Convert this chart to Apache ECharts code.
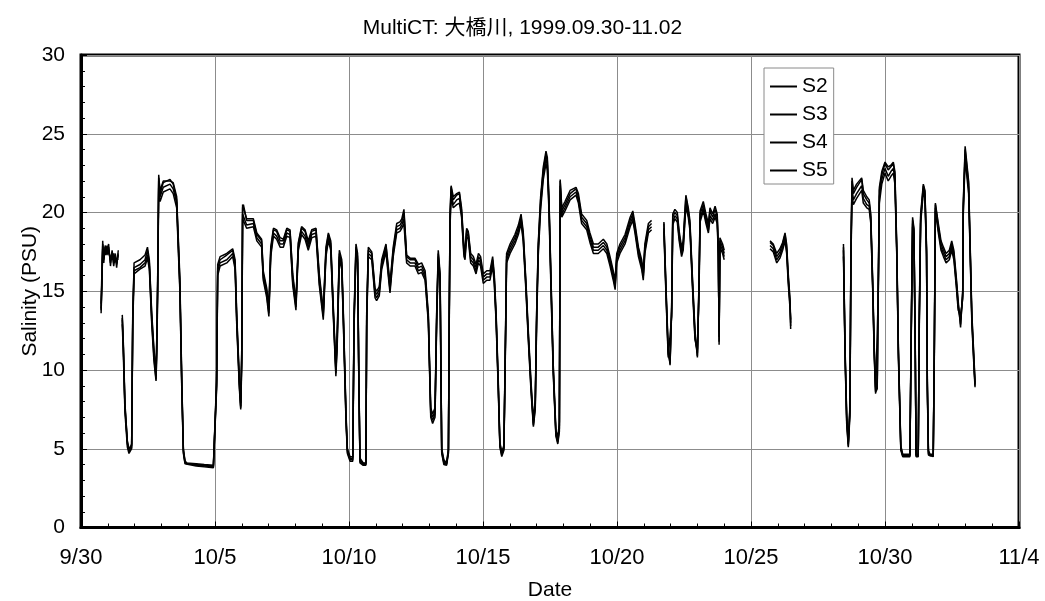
<!DOCTYPE html>
<html>
<head>
<meta charset="utf-8">
<script src="https://cdn.jsdelivr.net/npm/echarts@6/dist/echarts.min.js"></script>
<style>
  html, body { margin: 0; padding: 0; background: #fff; }
  #chart { width: 1045px; height: 601px; }
</style>
</head>
<body>
<div id="chart"></div>
<script>
// Elapsed days since 9/30 00:00 (shared time base for all four sensors)
const days = [
  0.75,0.79,0.81,0.85,0.90,0.97,1.03,1.10,1.16,1.22,1.28,1.33,1.39,1.46,
  1.54,1.58,1.64,1.73,1.79,1.89,1.93,1.98,2.01,2.20,2.39,2.48,2.55,2.64,2.72,2.80,2.83,2.86,
  2.90,2.95,3.07,3.32,3.44,3.57,3.69,3.76,3.82,3.88,3.94,4.30,4.60,4.94,5.00,
  5.06,5.10,5.19,5.44,5.66,5.75,5.81,5.91,5.96,6.00,6.03,6.06,6.18,6.43,6.56,6.74,6.80,6.93,7.01,
  7.08,7.18,7.30,7.43,7.55,7.68,7.80,7.90,8.02,8.11,8.23,8.36,8.48,8.61,8.77,8.89,9.04,
  9.14,9.23,9.32,9.41,9.51,9.56,9.64,9.73,9.79,9.89,9.94,10.04,10.14,10.19,10.26,10.32,10.37,10.41,10.53,10.63,10.66,
  10.72,10.85,10.97,11.03,11.13,11.22,11.38,11.47,11.53,11.65,11.78,11.90,11.97,12.05,12.15,12.28,12.46,12.59,12.71,12.84,12.96,13.05,13.12,
  13.21,13.27,13.33,13.40,13.42,13.46,13.54,13.64,13.71,13.74,13.77,13.81,13.89,14.02,14.12,
  14.20,14.29,14.33,14.39,14.45,14.54,14.64,14.74,14.83,14.91,15.01,15.14,15.26,15.36,15.42,15.49,15.57,15.63,15.70,15.78,15.85,15.88,
  16.01,16.19,16.32,16.42,16.50,16.60,16.69,16.79,16.88,16.95,17.00,17.06,17.15,17.25,17.35,17.40,17.46,17.54,17.62,17.72,17.79,17.85,
  17.88,17.94,18.06,18.25,18.47,18.56,18.68,18.87,18.99,19.12,19.30,19.49,19.62,
  19.74,19.86,19.93,19.99,20.11,20.30,20.49,20.59,20.67,20.80,20.92,20.98,21.04,21.08,21.17,21.29,21.5,
  21.75,21.83,21.91,21.98,22.04,22.08,22.16,22.25,22.32,22.41,22.47,22.57,22.66,22.72,22.82,22.91,23.00,23.06,23.10,23.22,
  23.32,23.41,23.47,23.57,23.66,23.74,23.78,23.81,23.84,23.94,24.00,24.5,
  25.71,25.83,25.96,26.08,26.18,26.27,26.33,26.39,26.46,26.48,27,
  28.45,28.51,28.57,28.63,28.69,28.73,28.77,28.82,28.94,29.13,29.19,29.32,29.41,29.47,29.54,29.60,29.65,29.71,29.75,29.79,
  29.88,30.00,30.12,30.22,30.31,30.37,
  30.44,30.50,30.59,30.66,30.93,30.97,31.03,31.08,31.13,31.16,31.24,31.28,31.33,31.43,31.49,31.55,31.58,31.62,31.68,31.80,31.84,
  31.88,31.93,31.99,32.09,32.18,32.28,32.40,32.49,32.57,32.67,32.73,32.82,32.90,32.92,32.99,33.05,33.12,33.18,33.24,33.33,33.36
];

// Salinity (PSU) per sensor; null marks a logging gap
const s2 = [
  13.6,16.0,18.2,16.8,17.9,17.5,18.0,16.6,17.6,16.8,17.4,16.5,17.6,null,
  13.5,11.7,7.9,5.4,4.8,5.1,13.4,16.5,16.5,16.7,17.0,17.6,16.8,13.4,11.2,9.6,12.0,15.5,
  22.4,21.2,21.9,22.1,21.8,20.8,15.5,9.2,4.9,4.2,4.05,4.0,3.95,3.9,3.87,
  9.2,16.5,17.0,17.3,17.6,16.8,13.4,9.2,7.7,11.2,20.3,20.5,19.5,19.5,18.6,18.2,16.1,15.0,13.8,
  17.6,18.9,18.8,18.2,18.2,18.9,18.8,15.9,14.2,18.0,19.0,18.8,18.0,18.8,18.9,15.9,13.6,
  17.6,18.6,18.0,14.0,10.0,12.1,17.4,16.8,13.4,7.0,4.9,4.4,4.4,13.4,17.8,17.2,9.1,4.3,4.07,4.07,13.4,
  17.6,17.4,15.0,14.8,15.1,16.8,17.9,16.3,15.3,17.6,19.1,19.2,19.4,20.0,17.2,17.0,17.0,16.5,16.6,16.1,13.4,7.4,7.0,
  7.4,13.4,17.4,15.9,12.0,4.9,4.2,4.05,4.9,13.4,19.7,21.6,20.8,21.1,21.2,
  20.1,17.6,17.4,18.9,18.7,17.2,17.0,16.5,17.2,17.0,15.9,16.1,16.1,17.0,15.9,13.4,9.1,5.3,4.7,5.1,13.4,17.2,
  17.8,18.4,19.0,19.7,18.6,15.5,12.3,9.1,6.6,7.9,13.4,17.8,20.8,22.7,23.7,23.3,20.8,15.5,10.2,6.0,5.5,6.5,
  22.0,20.1,20.5,21.2,21.5,21.0,19.7,19.3,18.5,17.8,17.8,18.1,17.8,
  17.0,16.1,15.5,17.2,17.8,18.4,19.5,19.9,19.1,17.6,16.8,16.1,17.8,18.2,19.1,19.3,null,
  19.3,15.0,11.2,10.4,14.0,19.7,20.0,19.8,18.6,17.6,18.0,21.0,20.1,19.3,15.5,12.3,10.9,15.5,19.9,20.5,
  19.7,19.1,20.1,19.7,20.2,19.7,17.6,11.8,18.2,17.8,17.4,null,
  18.1,17.9,17.2,17.5,18.0,18.6,17.8,15.9,14.2,12.8,null,
  18.0,11.2,7.0,5.3,7.5,17.6,22.0,21.2,21.6,22.1,21.2,20.8,20.6,19.7,15.5,11.2,8.7,9.0,15.5,21.4,
  22.4,23.1,22.7,22.9,23.1,22.4,
  17.6,11.2,5.1,4.6,4.6,11.2,19.5,18.9,11.2,4.6,4.6,13.4,19.7,21.7,21.3,17.6,9.1,4.8,4.6,4.6,11.2,
  20.5,19.9,19.1,18.0,17.6,17.2,17.4,18.0,17.4,15.5,14.2,12.9,14.9,20.4,24.0,23.9,21.8,17.6,13.4,10.2,9.1
];
const s3 = [
  13.9,16.4,17.9,17.2,17.6,17.7,17.6,17.0,17.3,17.1,17.1,16.8,17.3,null,
  13.2,11.4,7.6,5.3,4.9,5.3,13.0,16.3,16.3,16.5,16.8,17.3,16.6,13.1,10.9,9.4,11.6,15.1,
  22.0,21.0,21.6,21.8,21.5,20.6,15.2,9.0,4.8,4.1,4.0,3.95,3.9,3.85,3.85,
  9.0,16.3,16.8,17.0,17.4,16.6,13.1,9.0,7.6,10.8,19.9,20.0,19.2,19.3,18.4,18.0,15.9,14.8,13.6,
  17.4,18.7,18.5,18.0,18.0,18.7,18.6,15.6,14.0,17.8,18.8,18.5,17.8,18.6,18.7,15.6,13.4,
  17.4,18.4,17.8,13.8,9.8,11.8,17.2,16.6,13.1,6.8,4.8,4.3,4.3,13.1,17.6,17.0,8.9,4.2,4.0,4.0,13.1,
  17.4,17.2,14.8,14.6,14.9,16.6,17.7,16.1,15.1,17.4,18.9,19.0,19.2,19.6,17.0,16.8,16.8,16.3,16.4,15.9,13.2,7.2,6.8,
  7.2,13.1,17.2,15.7,11.7,4.8,4.1,4.0,4.8,13.1,19.4,21.3,20.5,20.8,20.9,
  19.9,17.4,17.2,18.7,18.5,17.0,16.8,16.3,17.0,16.8,15.7,15.9,15.9,16.8,15.7,13.2,8.9,5.2,4.6,5.0,13.1,17.0,
  17.6,18.2,18.8,19.5,18.4,15.3,12.1,8.9,6.5,7.7,13.1,17.5,20.5,22.4,23.4,23.0,20.5,15.2,10.0,5.9,5.4,6.3,
  21.7,19.9,20.3,21.0,21.3,20.8,19.5,19.1,18.3,17.6,17.6,17.9,17.6,
  16.8,15.9,15.3,17.0,17.6,18.2,19.3,19.7,18.9,17.4,16.6,15.9,17.6,18.0,18.9,19.1,null,
  19.0,14.8,11.0,10.6,13.7,19.4,19.8,19.6,18.4,17.4,17.8,20.7,19.9,19.1,15.3,12.1,11.1,15.2,19.6,20.3,
  19.5,18.9,19.8,19.5,19.9,19.5,17.4,12.1,18.0,17.6,17.2,null,
  17.9,17.7,17.0,17.3,17.8,18.4,17.6,15.7,14.0,13.0,null,
  17.6,11.0,6.8,5.2,7.3,17.3,21.6,20.8,21.2,21.7,20.9,20.5,20.4,19.5,15.3,11.0,8.6,8.8,15.2,21.0,
  22.1,22.8,22.3,22.6,22.8,22.1,
  17.4,11.0,5.0,4.55,4.55,11.0,19.3,18.7,11.0,4.55,4.55,13.1,19.5,21.5,21.1,17.4,8.9,4.7,4.55,4.55,11.0,
  20.3,19.7,18.9,17.8,17.4,17.0,17.2,17.8,17.2,15.3,14.0,13.2,14.7,20.1,23.7,23.6,21.5,17.4,13.2,10.0,9.0
];
const s4 = [
  14.2,16.9,17.7,17.5,17.3,17.9,17.4,17.3,17.0,17.4,16.9,17.1,17.0,null,
  12.9,11.0,7.3,5.1,4.7,5.0,12.7,16.1,16.2,16.4,16.6,17.1,16.4,12.9,10.6,9.3,11.2,14.8,
  21.6,20.7,21.3,21.5,21.2,20.3,15.0,8.8,4.7,4.05,3.95,3.9,3.85,3.8,3.8,
  8.8,16.0,16.6,16.8,17.2,16.4,12.9,8.8,7.5,10.5,19.6,19.7,19.0,19.1,18.2,17.8,15.7,14.6,13.4,
  17.2,18.5,18.3,17.8,17.8,18.5,18.4,15.4,13.8,17.6,18.6,18.3,17.6,18.4,18.5,15.4,13.2,
  17.2,18.2,17.6,13.6,9.6,11.5,17.0,16.4,12.9,6.6,4.7,4.2,4.2,12.8,17.4,16.8,8.7,4.1,3.95,3.95,12.8,
  17.2,17.0,14.6,14.4,14.7,16.4,17.5,15.9,14.9,17.2,18.7,18.8,19.0,19.3,16.8,16.6,16.6,16.1,16.2,15.7,13.0,7.0,6.6,
  7.0,12.8,17.0,15.5,11.4,4.7,4.0,3.95,4.7,12.8,19.1,21.0,20.3,20.5,20.6,
  19.7,17.2,17.0,18.5,18.3,16.8,16.6,16.1,16.8,16.6,15.5,15.7,15.7,16.6,15.5,13.0,8.7,5.1,4.5,4.9,12.8,16.8,
  17.4,18.0,18.6,19.3,18.2,15.1,11.9,8.7,6.4,7.5,12.8,17.2,20.2,22.1,23.1,22.7,20.2,14.9,9.8,5.8,5.3,6.1,
  21.4,19.7,20.1,20.8,21.1,20.6,19.3,18.9,18.1,17.4,17.4,17.7,17.4,
  16.6,15.7,15.1,16.8,17.4,18.0,19.1,19.5,18.7,17.2,16.4,15.7,17.4,17.8,18.7,18.9,null,
  18.8,14.6,10.8,10.8,13.4,19.2,19.6,19.4,18.2,17.2,17.6,20.4,19.7,18.9,15.1,11.9,11.3,14.9,19.4,20.1,
  19.3,18.7,19.6,19.3,19.7,19.3,17.2,12.4,17.8,17.4,17.0,null,
  17.7,17.5,16.8,17.1,17.6,18.2,17.4,15.5,13.8,13.2,null,
  17.2,10.8,6.6,5.1,7.1,17.0,21.2,20.5,20.9,21.4,20.6,20.3,20.2,19.3,15.1,10.8,8.5,8.6,14.9,20.6,
  21.8,22.5,22.0,22.3,22.5,21.8,
  17.2,10.8,4.9,4.5,4.5,10.8,19.1,18.5,10.8,4.5,4.5,12.8,19.3,21.3,20.9,17.2,8.7,4.6,4.5,4.5,10.8,
  20.1,19.5,18.7,17.6,17.2,16.8,17.0,17.6,17.0,15.1,13.8,13.5,14.5,19.8,23.4,23.3,21.2,17.2,13.0,9.8,8.9
];
const s5 = [
  13.8,16.2,18.0,17.0,17.8,17.3,17.8,16.8,17.5,16.6,17.3,16.7,17.4,null,
  13.3,11.5,7.7,5.5,5.0,5.2,13.2,16.8,16.8,17.0,17.3,17.8,17.0,13.6,11.4,9.8,12.3,15.7,
  22.2,21.4,22.0,22.0,21.9,21.0,15.8,9.4,5.0,4.25,4.1,4.05,4.0,3.95,3.9,
  9.4,16.7,17.2,17.4,17.7,17.0,13.6,9.4,7.9,11.5,20.5,20.3,19.6,19.6,18.7,18.3,16.3,15.2,14.0,
  17.8,19.0,18.9,18.4,18.3,19.0,18.9,16.1,14.4,18.1,19.1,18.9,18.2,18.9,19.0,16.1,13.8,
  17.8,18.7,18.2,14.2,10.2,12.4,17.6,17.0,13.6,7.2,5.0,4.5,4.5,13.6,18.0,17.4,9.3,4.4,4.1,4.1,13.6,
  17.8,17.5,15.2,15.0,15.3,17.0,18.0,16.5,15.5,17.8,19.3,19.4,19.6,20.2,17.3,17.1,17.1,16.7,16.8,16.3,13.6,7.6,7.2,
  7.6,13.6,17.6,16.1,12.2,5.0,4.3,4.1,5.0,13.6,19.9,21.7,21.0,21.2,21.3,
  20.3,17.8,17.6,19.0,18.8,17.4,17.2,16.7,17.4,17.2,16.1,16.3,16.3,17.2,16.1,13.6,9.3,5.4,4.8,5.2,13.6,17.4,
  18.0,18.6,19.2,19.9,18.8,15.7,12.5,9.3,6.8,8.1,13.6,18.0,21.0,22.9,23.9,23.5,21.0,15.7,10.4,6.2,5.7,6.7,
  22.1,20.3,20.7,21.4,21.6,21.2,19.9,19.5,18.7,18.0,18.0,18.3,18.0,
  17.2,16.3,15.7,17.4,18.0,18.6,19.7,20.1,19.3,17.8,17.0,16.3,18.0,18.4,19.3,19.5,null,
  19.4,15.2,11.4,10.3,14.2,19.9,20.2,20.0,18.8,17.8,18.2,21.1,20.3,19.5,15.7,12.5,10.8,15.7,20.1,20.7,
  19.9,19.3,20.3,19.9,20.4,19.9,17.8,11.6,18.4,18.0,17.6,null,
  18.2,18.0,17.4,17.7,18.1,18.7,18.0,16.1,14.4,12.6,null,
  17.8,11.4,7.2,5.4,7.7,17.8,22.2,21.4,21.8,22.2,21.4,21.0,20.8,19.9,15.7,11.4,8.9,9.2,15.7,21.6,
  22.6,23.2,22.9,23.0,23.2,22.6,
  17.8,11.4,5.2,4.65,4.65,11.4,19.7,19.0,11.4,4.65,4.65,13.6,19.9,21.8,21.4,17.8,9.3,4.9,4.65,4.65,11.4,
  20.6,20.0,19.3,18.2,17.8,17.4,17.6,18.2,17.6,15.7,14.4,12.7,15.1,20.6,24.2,24.1,22.0,17.8,13.6,10.4,9.2
];

const seriesNames = ['S2', 'S3', 'S4', 'S5'];
const seriesValues = [s2, s3, s4, s5];

// Date labels for the major ticks (every 5 days from 9/30)
const dateTicks = ['9/30', '10/5', '10/10', '10/15', '10/20', '10/25', '10/30', '11/4'];

const FONT = "'Liberation Sans', Arial, 'Noto Sans CJK JP', sans-serif";

const chart = echarts.init(document.getElementById('chart'), null, { renderer: 'canvas' });

const series = seriesNames.map((name, k) => ({
  name: name,
  type: 'line',
  symbol: 'none',
  showSymbol: false,
  connectNulls: false,
  data: days.map((d, i) => [d, seriesValues[k][i]]),
  lineStyle: { color: '#000', width: 1.5 },
  itemStyle: { color: '#000' },
  emphasis: { disabled: true },
  z: 3
}));

chart.setOption({
  animation: false,
  backgroundColor: '#fff',
  title: {
    text: 'MultiCT: 大橋川, 1999.09.30-11.02',
    left: 'center',
    top: 13,
    textStyle: { fontFamily: FONT, fontSize: 21, fontWeight: 'normal', color: '#000' }
  },
  legend: {
    orient: 'vertical',
    left: 764,
    top: 68,
    padding: [8, 6, 3, 6],
    itemGap: 7,
    itemWidth: 27,
    itemHeight: 2,
    icon: 'rect',
    itemStyle: { color: '#000', borderWidth: 0 },
    backgroundColor: '#fff',
    borderColor: '#8a8a8a',
    borderWidth: 1,
    textStyle: { fontFamily: FONT, fontSize: 21, color: '#000', lineHeight: 21 },
    data: seriesNames
  },
  grid: {
    left: 81,
    right: 26,
    top: 55,
    bottom: 73.5,
    outerBoundsMode: 'none',
    show: true,
    borderColor: '#000',
    borderWidth: 3,
    backgroundColor: 'transparent'
  },
  xAxis: {
    type: 'value',
    min: 0,
    max: 35,
    interval: 5,
    name: 'Date',
    nameLocation: 'middle',
    nameGap: 52,
    nameMoveOverlap: false,
    nameTextStyle: { fontFamily: FONT, fontSize: 21, color: '#000' },
    axisLine: { show: true, lineStyle: { color: '#000', width: 3 } },
    axisTick: { show: true, inside: true, length: 6, lineStyle: { color: '#000' } },
    minorTick: { show: true, splitNumber: 5, length: 4, lineStyle: { color: '#000' } },
    axisLabel: {
      fontFamily: FONT, fontSize: 22, color: '#000', margin: 19,
      formatter: v => dateTicks[Math.round(v / 5)] || ''
    },
    splitLine: { show: true, lineStyle: { color: '#8c8c8c', width: 1 } }
  },
  yAxis: {
    type: 'value',
    min: 0,
    max: 30,
    interval: 5,
    name: 'Salinity (PSU)',
    nameLocation: 'middle',
    nameRotate: 90,
    nameGap: 40,
    nameMoveOverlap: false,
    nameTextStyle: { fontFamily: FONT, fontSize: 21, color: '#000' },
    axisLine: { show: true, lineStyle: { color: '#000', width: 3 } },
    axisTick: { show: true, inside: true, length: 6, lineStyle: { color: '#000' } },
    minorTick: { show: true, splitNumber: 5, length: 4, lineStyle: { color: '#000' } },
    axisLabel: { fontFamily: FONT, fontSize: 21, color: '#000', margin: 16 },
    splitLine: { show: true, lineStyle: { color: '#8c8c8c', width: 1 } }
  },
  series: series
});
</script>
</body>
</html>
